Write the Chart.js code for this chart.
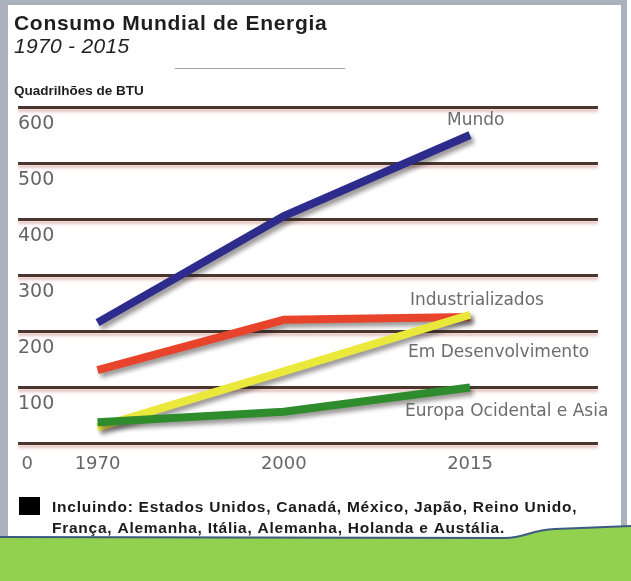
<!DOCTYPE html>
<html lang="pt">

<head>
  <meta charset="UTF-8">
  <script src="https://cdn.jsdelivr.net/npm/chart.js"></script>
  <style>
    body {
      margin: 0;
      background: #fff;
    }

    #grafico {
      display: block;
    }
  </style>
</head>

<body>
  <canvas id="grafico" width="631" height="581"></canvas>
</body>
<script>
  // dados (quadrilhões de BTU)
  const anos = ['1970', '2000', '2015'];
  const mundo = [215, 405, 550];
  const industrializados = [130, 220, 225];
  const emDesenvolvimento = [28, 128, 229];
  const europaAsia = [37, 56, 99];
  const yTicks = [0, 100, 200, 300, 400, 500, 600];

  const nomes = ['Mundo', 'Industrializados', 'Em Desenvolvimento', 'Europa Ocidental e Asia'];
  // onde fica cada nome: deslocamento em px a partir de 2015 e valor no eixo y
  const posNomes = [[-23, 568], [-60, 246], [-62, 154], [-65, 48]];

  const pontos = vals => vals.map((v, i) => ({ x: i, y: v }));

  const moldura = {
    id: 'moldura',
    beforeDraw(chart) {
      const ctx = chart.ctx;
      ctx.save();
      ctx.fillStyle = '#ffffff';
      ctx.fillRect(0, 0, 631, 581);
      ctx.fillStyle = '#a9b1bc';
      ctx.fillRect(0, 0, 627, 540);
      ctx.fillStyle = '#ffffff';
      ctx.fillRect(8, 5, 613, 540);
      ctx.restore();
      // sombra avermelhada embaixo das linhas de grade
      ctx.save();
      ctx.shadowColor = 'rgba(190, 110, 100, 0.45)';
      ctx.shadowOffsetY = 3;
      ctx.shadowBlur = 3;
    },
    beforeDatasetsDraw(chart) {
      const ctx = chart.ctx;
      ctx.restore();
      ctx.save();
      ctx.shadowColor = 'rgba(40, 30, 30, 0.45)';
      ctx.shadowOffsetX = 3;
      ctx.shadowOffsetY = 4;
      ctx.shadowBlur = 4;
    },
    afterDatasetsDraw(chart) {
      chart.ctx.restore();
    },
    afterDraw(chart) {
      const ctx = chart.ctx;
      const xs = chart.scales.x;
      const ys = chart.scales.y;
      ctx.save();
      ctx.textBaseline = 'alphabetic';
      ctx.textAlign = 'left';

      ctx.fillStyle = '#1e1e1e';
      ctx.letterSpacing = '0.7px';
      ctx.font = 'bold 21px "Liberation Sans"';
      ctx.fillText('Consumo Mundial de Energia', 14, 30);
      ctx.letterSpacing = '0.3px';
      ctx.font = 'italic 21px "Liberation Sans"';
      ctx.fillText('1970 - 2015', 14, 53);
      ctx.letterSpacing = '0px';
      ctx.font = 'bold 13.5px "Liberation Sans"';
      ctx.fillText('Quadrilhões de BTU', 14, 95);

      ctx.strokeStyle = '#a0a0a0';
      ctx.lineWidth = 1;
      ctx.beginPath();
      ctx.moveTo(175, 68.5);
      ctx.lineTo(345, 68.5);
      ctx.stroke();

      // nomes das séries
      ctx.fillStyle = '#6c6c6c';
      ctx.font = '17px "DejaVu Sans"';
      nomes.forEach((n, i) => {
        const [dx, v] = posNomes[i];
        ctx.fillText(n, xs.getPixelForValue(anos.length - 1) + dx, ys.getPixelForValue(v));
      });

      // nota de rodapé
      ctx.fillStyle = '#000';
      ctx.fillRect(19, 497, 21, 18);
      ctx.fillStyle = '#1a1a1a';
      ctx.letterSpacing = '0.75px';
      ctx.font = 'bold 15.5px "Liberation Sans"';
      ctx.fillText('Incluindo: Estados Unidos, Canadá, México, Japão, Reino Unido,', 52, 512);
      ctx.fillText('França, Alemanha, Itália, Alemanha, Holanda e Austália.', 52, 533);
      ctx.letterSpacing = '0px';

      // faixa verde
      ctx.fillStyle = '#92d050';
      ctx.strokeStyle = '#3d5a80';
      ctx.lineWidth = 2;
      ctx.beginPath();
      ctx.moveTo(0, 537);
      ctx.lineTo(505, 538);
      ctx.bezierCurveTo(525, 538, 530, 530, 555, 529);
      ctx.lineTo(631, 526);
      ctx.lineTo(631, 581);
      ctx.lineTo(0, 581);
      ctx.closePath();
      ctx.fill();
      ctx.beginPath();
      ctx.moveTo(0, 537);
      ctx.lineTo(505, 538);
      ctx.bezierCurveTo(525, 538, 530, 530, 555, 529);
      ctx.lineTo(631, 526);
      ctx.stroke();
      ctx.restore();
    }
  };

  const serie = (dados, cor, ordem) => ({
    data: pontos(dados),
    borderColor: cor,
    borderWidth: 8,
    borderCapStyle: 'butt',
    pointRadius: 0,
    tension: 0,
    fill: false,
    order: ordem
  });

  const ctx = document.getElementById('grafico').getContext('2d');
  const chart = new Chart(ctx, {
    type: 'line',
    data: {
      datasets: [
        serie(mundo, '#2d2c8c', 3),
        serie(industrializados, '#e8442b', 2),
        serie(emDesenvolvimento, '#ebe83c', 1),
        serie(europaAsia, '#2f8c2c', 0)
      ]
    },
    options: {
      responsive: false,
      animation: false,
      layout: {
        padding: { top: 107, left: 18, right: 33, bottom: 98 }
      },
      plugins: {
        legend: { display: false },
        tooltip: { enabled: false }
      },
      scales: {
        x: {
          type: 'linear',
          min: -0.427,
          max: 2.687,
          grid: { display: false },
          border: { display: false },
          afterBuildTicks: s => {
            // o "0" do eixo y fica na mesma linha dos anos
            s.ticks = [{ value: -0.378 }].concat(anos.map((a, i) => ({ value: i })));
          },
          afterFit: s => { s.height = 40; },
          ticks: {
            autoSkip: false,
            maxRotation: 0,
            padding: 3,
            z: 1,
            color: '#666',
            font: { family: 'DejaVu Sans', size: 18 },
            callback: (v, i) => i === 0 ? String(yTicks[0]) : anos[i - 1]
          }
        },
        y: {
          min: yTicks[0],
          max: yTicks[yTicks.length - 1],
          grid: { color: '#4a362e', lineWidth: 3, drawTicks: false },
          border: { display: false },
          afterBuildTicks: s => { s.ticks = yTicks.map(v => ({ value: v })); },
          afterFit: s => { s.width = 0; },
          ticks: {
            mirror: true,
            padding: 0,
            labelOffset: 17,
            z: 1,
            color: '#666',
            font: { family: 'DejaVu Sans', size: 19 },
            callback: v => v === 0 ? '' : v
          }
        }
      }
    },
    plugins: [moldura]
  });
</script>

</html>
